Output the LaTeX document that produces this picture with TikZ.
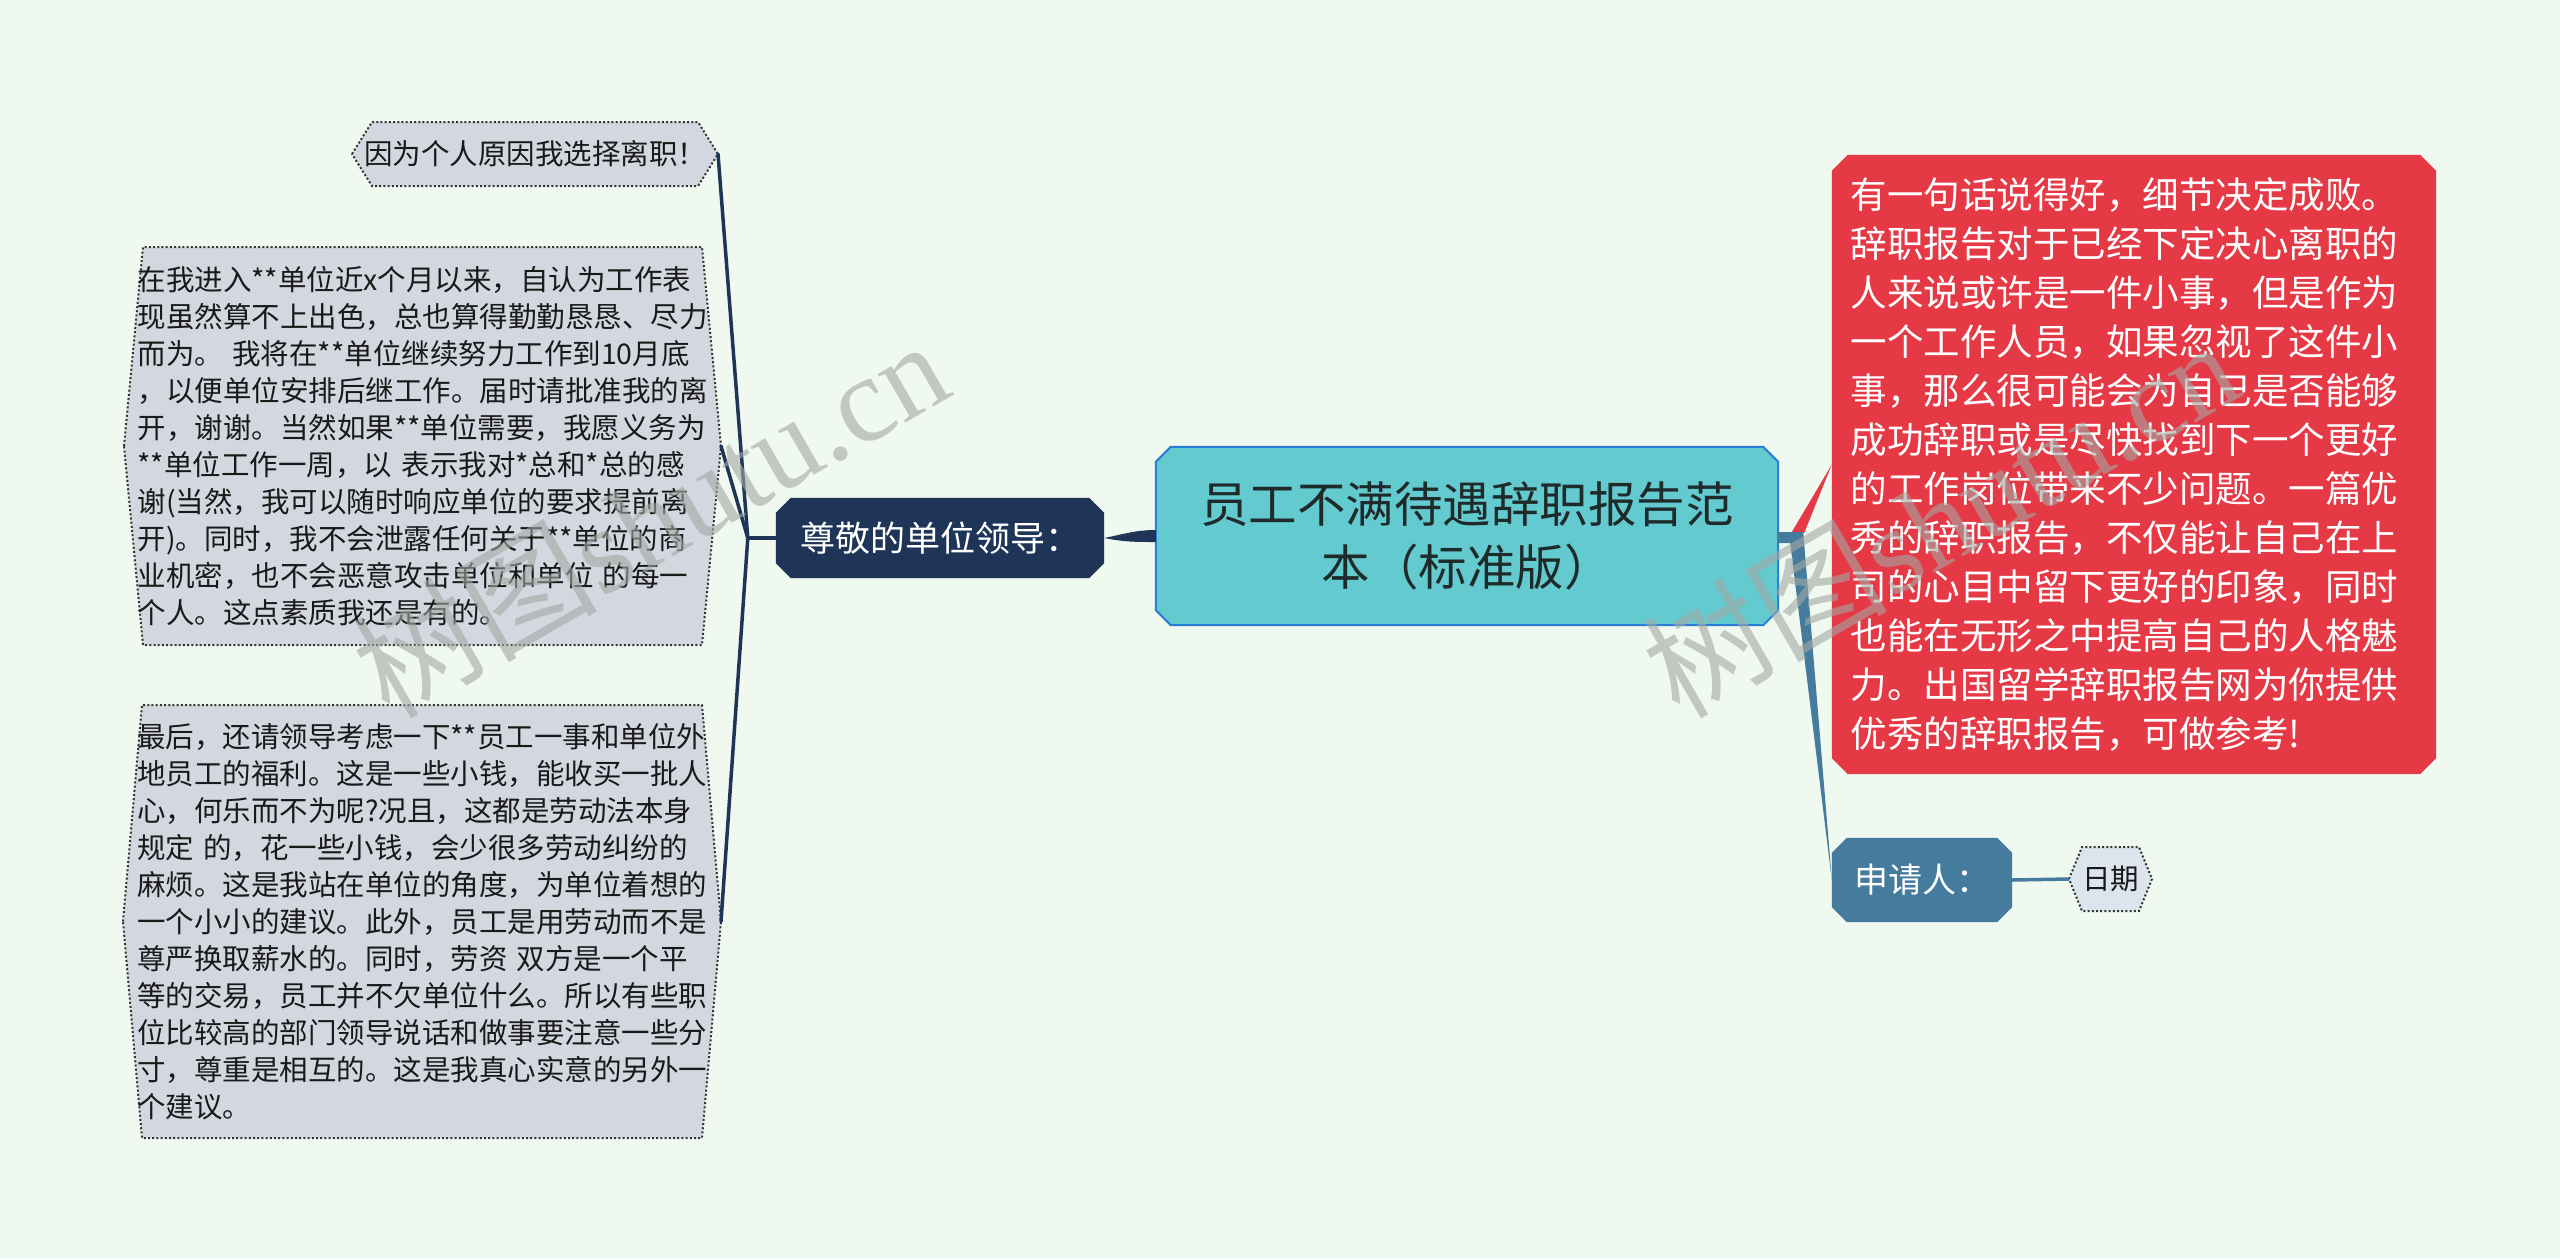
\documentclass[tikz,border=0pt]{standalone}
\usepackage{fontspec}
\setmainfont{Noto Sans CJK SC}
\newfontfamily\wmlat{Liberation Serif}
\usetikzlibrary{calc,backgrounds}
\definecolor{bgc}{HTML}{F0F9F0}
\definecolor{navy}{HTML}{1E3557}
\definecolor{steel}{HTML}{457B9D}
\definecolor{crim}{HTML}{E63946}
\definecolor{ctrfill}{HTML}{63CBD0}
\definecolor{tealb}{HTML}{2B7FD4}
\definecolor{leafc}{HTML}{D3D7DF}
\definecolor{leafd}{HTML}{DCE4EE}
\definecolor{ink}{HTML}{1F2A2A}
\definecolor{wmc}{HTML}{A3A8A3}
\newcommand\chamf[3]{\path[#3] ($(#1.north west)+(#2,0)$) -- ($(#1.north east)+(-#2,0)$) -- ($(#1.north east)+(0,#2)$) -- ($(#1.south east)+(0,-#2)$) -- ($(#1.south east)+(-#2,0)$) -- ($(#1.south west)+(#2,0)$) -- ($(#1.south west)+(0,-#2)$) -- ($(#1.north west)+(0,#2)$) -- cycle;}
\newcommand\hexa[5]{\path[#5] ($(#1.center)+(-#2-#4,0)$) -- ($(#1.center)+(-#2,-#3)$) -- ($(#1.center)+(#2,-#3)$) -- ($(#1.center)+(#2+#4,0)$) -- ($(#1.center)+(#2,#3)$) -- ($(#1.center)+(-#2,#3)$) -- cycle;}
\tikzset{
  leaftext/.style={text width=570pt, align=left, inner sep=0pt, text=black!90, font=\fontsize{28.5}{37}\selectfont},
  leafsmall/.style={inner sep=0pt, text=black!90, font=\fontsize{28.5}{34}\selectfont},
  leafshape/.style={fill=leafc, draw=black!80, line width=2pt, dash pattern=on 2pt off 2.2pt},
  leafshapeb/.style={fill=leafd, draw=black!80, line width=2pt, dash pattern=on 2pt off 2.2pt},
  ctr/.style={minimum width=622pt, minimum height=178pt, inner sep=0pt, align=center, text=ink, font=\fontsize{48.5}{63}\selectfont},
  navybox/.style={minimum width=328pt, minimum height=80pt, inner sep=0pt, text=white, font=\fontsize{35}{40}\selectfont},
  redbox/.style={minimum width=604pt, minimum height=619pt, inner sep=0pt, text width=567pt, align=left, text=white, font=\fontsize{36.5}{49}\selectfont},
  steelbox/.style={minimum width=180pt, minimum height=84pt, inner sep=0pt, text=white, font=\fontsize{34}{40}\selectfont},
  navyline/.style={draw=navy, line width=3.5pt, line cap=round},
  steelline/.style={draw=steel, line width=3.5pt},
  wmark/.style={inner sep=0pt, text=wmc, text opacity=0.6, rotate=30, font=\fontsize{122}{122}\selectfont}
}
\begin{document}
\begin{tikzpicture}[x=1pt,y=-1pt]
\useasboundingbox (0,0) rectangle (2560,1259);

\node[ctr] (C) at (1467,536) {员工不满待遇辞职报告范\\本（标准版）};
\node[navybox] (L) at (940,538) {尊敬的单位领导：};
\node[redbox] (R) at (2134,464.5) {有一句话说得好，细节决定成败。\\
辞职报告对于已经下定决心离职的\\
人来说或许是一件小事，但是作为\\
一个工作人员，如果忽视了这件小\\
事，那么很可能会为自己是否能够\\
成功辞职或是尽快找到下一个更好\\
的工作岗位带来不少问题。一篇优\\
秀的辞职报告，不仅能让自己在上\\
司的心目中留下更好的印象，同时\\
也能在无形之中提高自己的人格魅\\
力。出国留学辞职报告网为你提供\\
优秀的辞职报告，可做参考!};
\node[steelbox] (A) at (1922,880) {申请人：};
\node[leafsmall] (T) at (535,154) {因为个人原因我选择离职！};
\node[leaftext] (M) at (422.5,446) {在我进入**单位近x个月以来，自认为工作表\\
现虽然算不上出色，总也算得勤勤恳恳、尽力\\
而为。~我将在**单位继续努力工作到10月底\\
，以便单位安排后继工作。届时请批准我的离\\
开，谢谢。当然如果**单位需要，我愿义务为\\{}
**单位工作一周，以~表示我对*总和*总的感\\
谢(当然，我可以随时响应单位的要求提前离\\
开)。同时，我不会泄露任何关于**单位的商\\
业机密，也不会恶意攻击单位和单位~的每一\\
个人。这点素质我还是有的。};
\node[leaftext] (B) at (422,921.5) {最后，还请领导考虑一下**员工一事和单位外\\
地员工的福利。这是一些小钱，能收买一批人\\
心，何乐而不为呢?况且，这都是劳动法本身\\
规定~的，花一些小钱，会少很多劳动纠纷的\\
麻烦。这是我站在单位的角度，为单位着想的\\
一个小小的建议。此外，员工是用劳动而不是\\
尊严换取薪水的。同时，劳资~双方是一个平\\
等的交易，员工并不欠单位什么。所以有些职\\
位比较高的部门领导说话和做事要注意一些分\\
寸，尊重是相互的。这是我真心实意的另外一\\
个建议。};
\node[leafsmall] (D) at (2110.5,879) {日期};

\coordinate (TE) at ($(T.center)+(183,0)$);
\coordinate (ME) at ($(M.center)+(298.5,0)$);
\coordinate (BE) at ($(B.center)+(299,0)$);
\coordinate (DW) at ($(D.center)+(-41.5,0)$);
\coordinate (LJ) at ($(L.west)+(-28,0)$);

\begin{scope}[on background layer]
\fill[bgc] (0,0) rectangle (2560,1259);
\hexa{T}{163}{32}{20}{leafshape}
\hexa{M}{279.5}{199}{19}{leafshape}
\hexa{B}{280}{216.5}{19}{leafshape}
\hexa{D}{28.5}{32}{13}{leafshapeb}
\chamf{C}{15}{fill=ctrfill,draw=tealb,line width=2pt}
\chamf{L}{15}{fill=navy}
\chamf{R}{16}{fill=crim}
\chamf{A}{15}{fill=steel}
\end{scope}

% connectors
\draw[navyline] (L.west) -- (LJ);
\draw[navyline] (LJ) -- (TE);
\draw[navyline] (LJ) -- (ME);
\draw[navyline] (LJ) -- (BE);
\fill[navy] (L.east) .. controls ($(L.east)+(20,-4)$) and ($(C.west)+(-20,-6)$) .. ($(C.west)+(0,-6)$) -- ($(C.west)+(0,6)$) .. controls ($(C.west)+(-20,6)$) and ($(L.east)+(20,4)$) .. (L.east) -- cycle;
\fill[crim] ($(C.east)+(13,-3)$) -- (R.west) -- ($(C.east)+(26,-3)$) -- cycle;
\fill[steel] ($(C.east)+(0,-4)$) -- ($(C.east)+(25,-4)$) -- (A.west) -- ($(C.east)+(12,7)$) -- ($(C.east)+(0,7)$) -- cycle;
\draw[steelline] (A.east) -- (DW);

% watermarks
\node[wmark] (W1) at (650,517) {树图{\wmlat shutu.cn}};
\node[wmark] (W2) at (1940,517) {树图{\wmlat shutu.cn}};
\end{tikzpicture}
\end{document}
